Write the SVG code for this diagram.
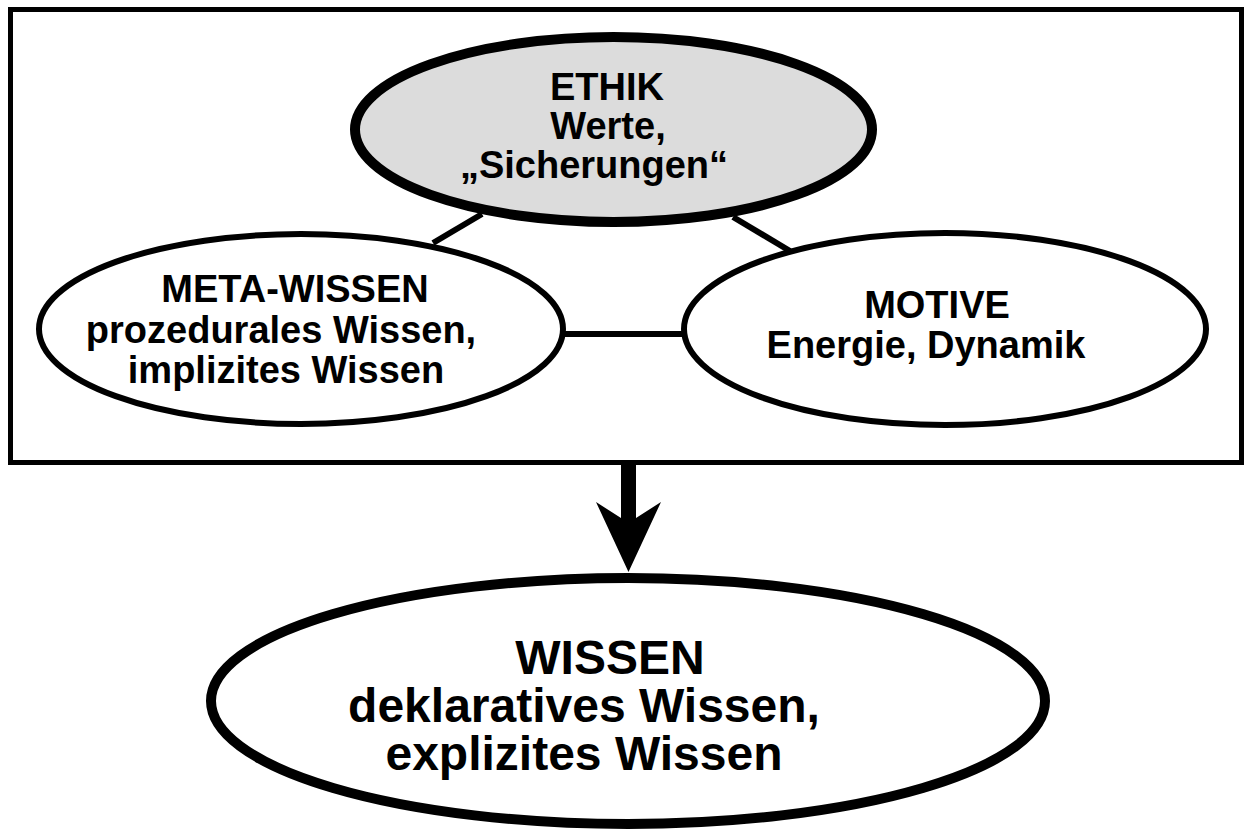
<svg xmlns="http://www.w3.org/2000/svg" width="1245" height="832" viewBox="0 0 1245 832">
<style>
text{font-family:"Liberation Sans",Arial,sans-serif;font-weight:bold;fill:#000;text-anchor:middle}
.s{font-size:38px}
.b{font-size:48px}
.ln{stroke:#000;stroke-width:6;fill:none}
</style>
<rect width="1245" height="832" fill="#fff"/>
<rect id="frame" x="10.5" y="9.5" width="1231" height="453" fill="none" stroke="#000" stroke-width="5"/>
<g id="connectors">
<line class="ln" x1="433" y1="243" x2="482" y2="214"/>
<line class="ln" x1="733" y1="217" x2="790" y2="251"/>
<line class="ln" x1="563" y1="334" x2="684" y2="334"/>
<polygon points="621,462 636,462 636,518 661,502 628.5,572 596,502 621,518" fill="#000"/>
</g>
<g id="ethik">
<ellipse cx="613.5" cy="129.5" rx="258.5" ry="92.5" fill="#dcdcdc" stroke="#000" stroke-width="10"/>
<text class="s" x="607" y="100">ETHIK</text>
<text class="s" x="608" y="139">Werte,</text>
<text class="s" x="594" y="178">„Sicherungen“</text>
</g>
<g id="meta">
<ellipse cx="301" cy="329" rx="262" ry="95" fill="#fff" stroke="#000" stroke-width="6"/>
<text class="s" x="295" y="302">META-WISSEN</text>
<text class="s" x="281" y="343">prozedurales Wissen,</text>
<text class="s" x="286" y="383">implizites Wissen</text>
</g>
<g id="motive">
<ellipse cx="945" cy="329" rx="261" ry="96" fill="#fff" stroke="#000" stroke-width="6"/>
<text class="s" x="937" y="318">MOTIVE</text>
<text class="s" x="926" y="358">Energie, Dynamik</text>
</g>
<g id="wissen">
<ellipse cx="628" cy="701" rx="417" ry="123" fill="#fff" stroke="#000" stroke-width="10"/>
<text class="b" x="610" y="674">WISSEN</text>
<text class="b" x="584" y="722">deklaratives Wissen,</text>
<text class="b" x="584" y="770">explizites Wissen</text>
</g>
</svg>
